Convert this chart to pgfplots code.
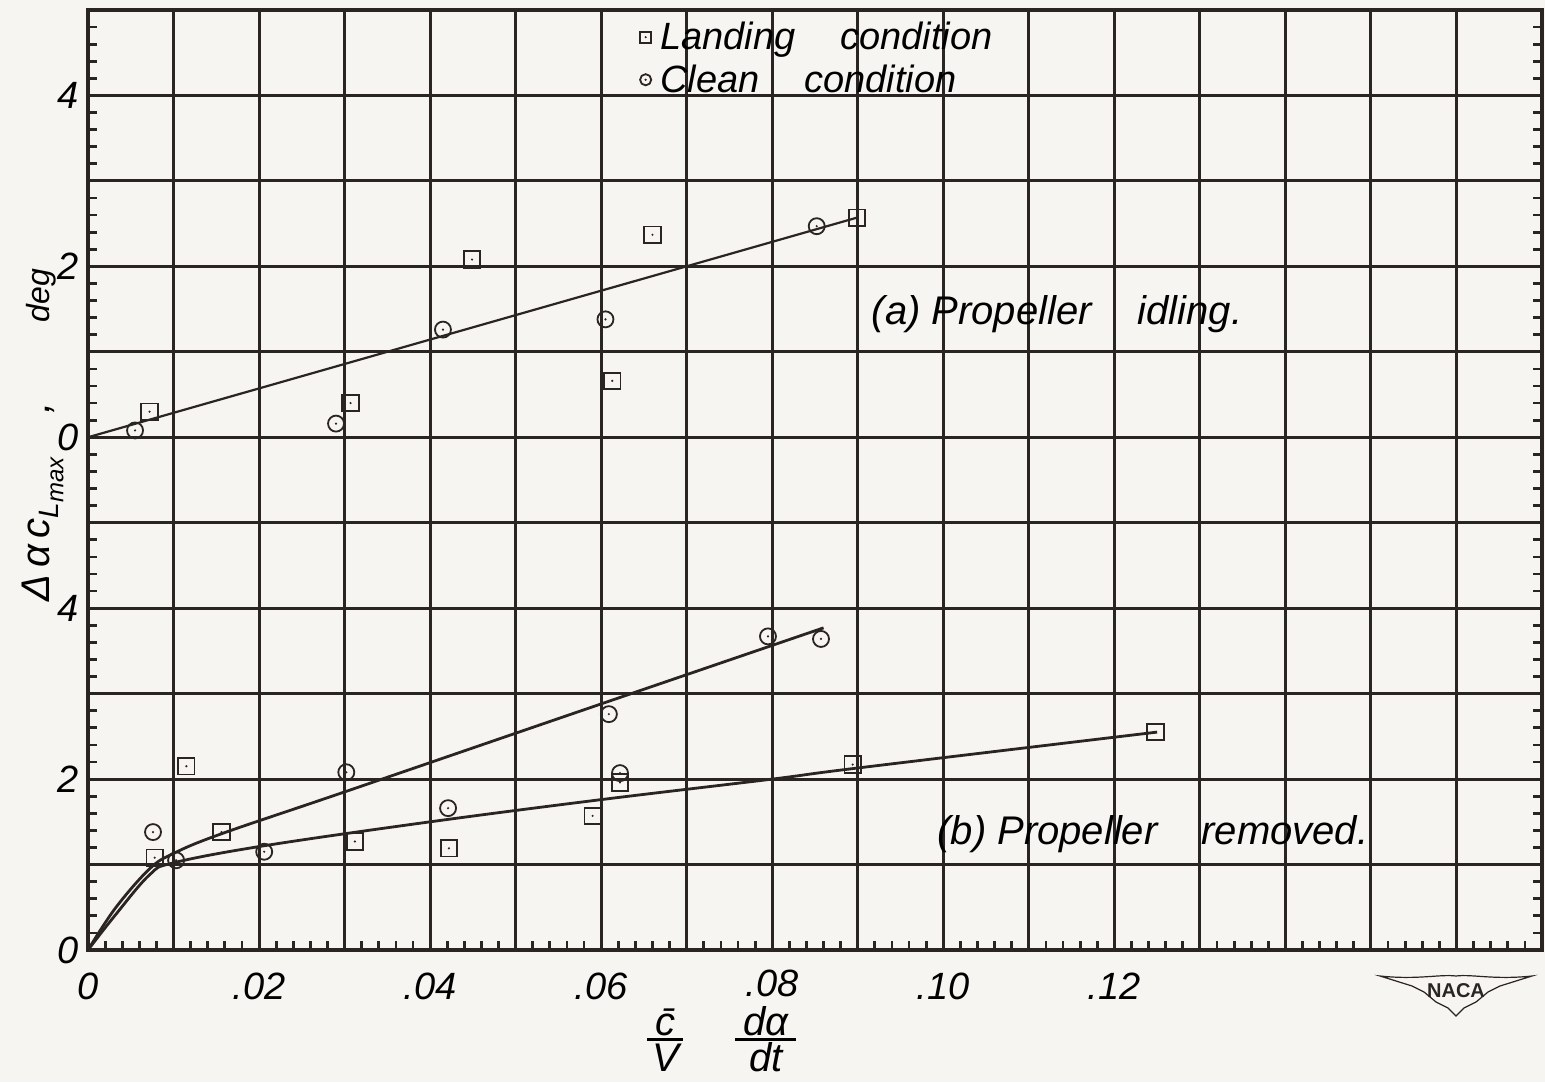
\documentclass[border=0pt]{standalone}
\usepackage{pgfplots}
\pgfplotsset{compat=1.18}
\usepackage{fontspec}
\setmainfont{Liberation Sans}
\definecolor{ink}{HTML}{2A2522}
\definecolor{paper}{HTML}{F7F5F1}
\pgfdeclareplotmark{sqdot}{%
  \pgfpathrectangle{\pgfpoint{-\pgfplotmarksize}{-\pgfplotmarksize}}{\pgfpoint{2\pgfplotmarksize}{2\pgfplotmarksize}}%
  \pgfusepathqstroke
  \pgfpathcircle{\pgfpointorigin}{0.6pt}\pgfusepathqfill}
\pgfdeclareplotmark{cidot}{%
  \pgfpathcircle{\pgfpointorigin}{\pgfplotmarksize}\pgfusepathqstroke
  \pgfpathcircle{\pgfpointorigin}{0.6pt}\pgfusepathqfill}
\def\fr#1#2{\vbox{\offinterlineskip\halign{\hfil##\hfil\cr\strut\kern4pt#1\kern4pt\cr\noalign{\kern1pt\hrule height1.3pt\kern1pt}\strut#2\cr}}}
\begin{document}
\begin{tikzpicture}[font=\fontsize{18}{21}\selectfont\itshape]
\path[use as bounding box, fill=paper] (-44pt,-66pt) rectangle (728.5pt,475pt);
\begin{axis}[
  at={(0pt,0pt)}, anchor=south west,
  scale only axis, width=727pt, height=470pt,
  xmin=0, xmax=0.17, ymin=0, ymax=11,
  axis line style={ink, line width=2.2pt},
  xtick={0,0.01,0.02,0.03,0.04,0.05,0.06,0.07,0.08,0.09,0.10,0.11,0.12,0.13,0.14,0.15,0.16,0.17},
  xticklabels={0,,.02,,.04,,.06,,\raisebox{3pt}{.08},,.10,,.12,,,,,},
  ytick={0,1,2,3,4,5,6,7,8,9,10,11},
  yticklabels={0,,2,,4,,0,,2,,4,},
  xtick pos=left,
  major tick length=0pt,
  minor x tick num=4, minor y tick num=4,
  minor tick length=4.5pt,
  minor tick style={ink, line width=1.4pt},
  grid=major,
  major grid style={ink, line width=1.5pt},
  tick label style={font=\fontsize{19}{21}\selectfont\itshape},
  xticklabel style={anchor=center, yshift=-18pt},
  yticklabel style={anchor=center, xshift=-10pt},
  ylabel={\fontsize{20}{22}\selectfont Δ\,α\,c\raisebox{-0.4ex}{\fontsize{14}{14}\selectfont L\raisebox{-0.35ex}{\fontsize{12}{12}\selectfont max}}\hspace{22pt},\hspace{40pt}{\fontsize{16}{18}\selectfont deg}},
  ylabel style={at={(axis description cs:-0.031,0.548)}, anchor=center},
  xlabel={\fontsize{20}{20}\selectfont\def\strut{\vrule width0pt height14.5pt depth0.5pt}\fr{\={c}}{V}\hspace{26pt}\fr{dα}{dt}},
  xlabel style={at={(axis description cs:0.436,-0.095)}, anchor=center},
  legend style={at={(axis cs:0.0645,10.90)}, anchor=north west, draw=none, fill=none,
    inner sep=0pt, row sep=3pt, nodes={inner sep=1.5pt},
    font=\fontsize{19}{22}\selectfont\itshape},
  legend cell align=left,
  legend image code/.code={\draw[#1, mark size=2.8pt, line width=0.7pt] plot coordinates {(0.2cm,0cm)};},
  mark options={ink, fill=ink, solid, line width=0.9pt},
]
\addplot[only marks, mark=sqdot, mark size=4.1pt] coordinates {
  (0.0072,6.30) (0.0307,6.40) (0.0449,8.08) (0.066,8.37) (0.0613,6.66) (0.0899,8.57)
  (0.0115,2.15) (0.0078,1.08) (0.0156,1.38) (0.0312,1.27) (0.0422,1.19) (0.059,1.57)
  (0.0622,1.96) (0.0894,2.17) (0.1248,2.55)};
\addplot[only marks, mark=cidot, mark size=4pt] coordinates {
  (0.0055,6.08) (0.029,6.16) (0.0415,7.26) (0.0605,7.38) (0.0852,8.47)
  (0.0076,1.38) (0.0103,1.05) (0.0206,1.15) (0.0302,2.08) (0.0421,1.66) (0.0609,2.76)
  (0.0622,2.07) (0.0795,3.67) (0.0857,3.64)};
\addplot[ink, line width=1.1pt, no marks] coordinates {(0,6) (0.0899,8.57)};
\addplot[ink, line width=1.4pt, no marks, smooth, tension=0.6] coordinates {
  (0,0) (0.0032,0.49) (0.0072,0.95) (0.01,1.13) (0.0156,1.36) (0.03,1.85) (0.06,2.88) (0.086,3.77)};
\addplot[ink, line width=1.4pt, no marks, smooth, tension=0.6] coordinates {
  (0,0) (0.0032,0.41) (0.0072,0.88) (0.01,1.02) (0.0206,1.22) (0.04,1.5) (0.06,1.76) (0.08,2.0) (0.09,2.13) (0.125,2.55)};
\legend{\hspace{3pt}Landing\hspace{0.9em} condition, \hspace{3pt}Clean\hspace{0.9em} condition}
\node[font=\fontsize{20}{24}\selectfont\itshape] at (axis cs:0.1133,7.44) {(a) Propeller\hspace{23pt}idling.};
\node[font=\fontsize{20}{24}\selectfont\itshape] at (axis cs:0.1245,1.35) {(b) Propeller\hspace{22pt}removed.};
\end{axis}
\draw[ink, line width=0.6pt] (646pt,-13pt) .. controls (665pt,-15pt) and (676pt,-12pt) .. (684pt,-13pt)
  .. controls (692pt,-12pt) and (703pt,-15pt) .. (722pt,-13pt)
  -- (706pt,-18pt) -- (700pt,-21pt) -- (694pt,-26pt) -- (688pt,-29pt) -- (684pt,-33pt)
  -- (680pt,-29pt) -- (674pt,-26pt) -- (668pt,-21pt) -- (662pt,-18pt) -- cycle;
\node[font=\fontsize{10}{10}\selectfont\upshape\bfseries, text=ink] at (684pt,-20.5pt) {NACA};
\end{tikzpicture}
\end{document}
